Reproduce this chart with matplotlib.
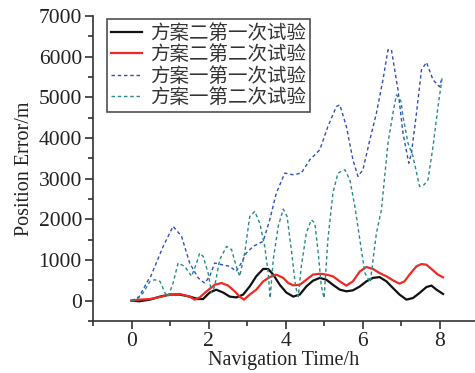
import matplotlib
matplotlib.use("Agg")
import matplotlib.pyplot as plt
from matplotlib.ticker import MultipleLocator

plt.rcParams['font.family'] = ['Liberation Serif', 'Noto Sans CJK SC']

labels = ['方案二第一次试验', '方案二第二次试验', '方案一第一次试验', '方案一第二次试验']

# 方案二第一次试验 (black)
t_b2_1 = [0, 0.2, 0.48, 0.74, 1.0, 1.25, 1.51, 1.73, 1.86, 2.03, 2.2, 2.38, 2.55, 2.72, 2.9,
          3.07, 3.24, 3.42, 3.55, 3.68, 3.85, 4.02, 4.2, 4.37, 4.54, 4.71, 4.89, 5.06, 5.23,
          5.41, 5.58, 5.75, 5.93, 6.1, 6.27, 6.44, 6.62, 6.79, 6.96, 7.14, 7.31, 7.48, 7.66,
          7.79, 7.92, 8.09]
v_b2_1 = [0, -15, 25, 100, 150, 150, 100, 40, 40, 200, 270, 200, 100, 80, 150,
          350, 600, 780, 780, 640, 390, 200, 100, 150, 350, 490, 560, 515, 390,
          270, 230, 254, 350, 475, 560, 580, 475, 310, 150, 25, 65, 190, 336,
          370, 270, 165]

# 方案二第二次试验 (red)
t_b2_2 = [0, 0.2, 0.48, 0.74, 1.0, 1.25, 1.51, 1.64, 1.77, 1.95, 2.16, 2.34, 2.51, 2.68, 2.81,
          2.92, 3.07, 3.24, 3.42, 3.59, 3.76, 3.94, 4.07, 4.2, 4.37, 4.54, 4.71, 4.89, 5.06,
          5.23, 5.41, 5.58, 5.75, 5.93, 6.1, 6.27, 6.44, 6.62, 6.79, 6.96, 7.09, 7.22, 7.4,
          7.53, 7.66, 7.83, 7.96, 8.09]
v_b2_2 = [0, 25, 40, 90, 155, 165, 100, 25, 80, 230, 390, 434, 370, 230, 100,
          25, 150, 270, 475, 580, 640, 560, 434, 377, 390, 515, 640, 663, 640,
          600, 475, 370, 475, 720, 827, 780, 680, 600, 500, 418, 475, 640, 845,
          900, 884, 745, 640, 575]

# 方案一第一次试验 (blue dashed)
t_b1_1 = [0, 0.2, 0.43, 0.5, 0.82, 1.08, 1.3, 1.51, 1.73, 1.9, 2.03, 2.16, 2.34, 2.55, 2.72,
          2.85, 2.98, 3.16, 3.42, 3.59, 3.76, 3.98, 4.2, 4.41, 4.63, 4.89, 5.1, 5.32, 5.41,
          5.58, 5.75, 5.88, 6.01, 6.19, 6.36, 6.53, 6.66, 6.75, 6.92, 7.05, 7.2, 7.27, 7.4,
          7.53, 7.66, 7.83, 8.0, 8.05]
v_b1_1 = [0, 100, 500, 600, 1330, 1830, 1580, 925, 560, 430, 600, 925, 885, 845, 720,
          925, 1170, 1335, 1460, 1990, 2645, 3137, 3095, 3137, 3464, 3710, 4283, 4775, 4815,
          4283, 3464, 3055, 3219, 3956, 4611, 5430, 6167, 6167, 5184, 4119, 3380, 3628, 4611,
          5676, 5860, 5430, 5260, 5430]

# 方案一第二次试验 (teal dashed)
t_b1_2 = [0, 0.13, 0.3, 0.48, 0.6, 0.74, 0.87, 0.95, 1.08, 1.21, 1.38, 1.56, 1.69, 1.77, 1.86,
          1.99, 2.08, 2.16, 2.29, 2.47, 2.6, 2.72, 2.81, 2.94, 3.07, 3.2, 3.33, 3.46, 3.55,
          3.6, 3.68, 3.81, 3.94, 4.04, 4.15, 4.26, 4.33, 4.41, 4.54, 4.67, 4.76, 4.84, 4.93,
          5.0, 5.1, 5.23, 5.36, 5.54, 5.67, 5.8, 5.93, 6.06, 6.2, 6.36, 6.49, 6.66, 6.79,
          6.88, 7.0, 7.05, 7.18, 7.31, 7.48, 7.6, 7.7, 7.83, 7.96, 8.07]
v_b1_2 = [0, 25, 190, 475, 515, 475, 190, 100, 435, 925, 845, 600, 925, 1170, 1090,
          680, 190, 350, 1007, 1335, 1253, 845, 600, 1170, 2072, 2195, 1908, 1335, 680,
          65, 1007, 1826, 2252, 2072, 1253, 350, 100, 845, 1663, 1990, 1908, 1253, 350,
          65, 1500, 2645, 3137, 3219, 2973, 2318, 1500, 680, 450, 1663, 2236, 3874, 4611,
          5061, 4900, 4529, 3874, 3546, 2809, 2850, 2973, 3792, 4775, 5512]

xticks = [0, 2, 4, 6, 8]
yticks = [0, 1000, 2000, 3000, 4000, 5000, 6000, 7000]

fig = plt.figure(figsize=(4.75, 3.73), dpi=100)
ax = fig.add_axes([93 / 475, 52 / 373, 1 - 93 / 475, (321 - 16) / 373])

ax.plot(t_b2_1, v_b2_1, color='#111111', lw=1.6, label=labels[0])
ax.plot(t_b2_2, v_b2_2, color='#ee2a24', lw=1.6, label=labels[1])
ax.plot(t_b1_1, v_b1_1, color='#2f4fbf', lw=1.0, ls=(0, (2.5, 2)), label=labels[2])
ax.plot(t_b1_2, v_b1_2, color='#2a8a86', lw=1.0, ls=(0, (2.5, 2)), label=labels[3])

ax.set_xlim(-1, 8.92)
ax.set_ylim(-500, 7000)
ax.set_xticks(xticks)
ax.set_yticks(yticks)
ax.xaxis.set_minor_locator(MultipleLocator(1))
ax.yaxis.set_minor_locator(MultipleLocator(500))
for s in ['top', 'right']:
    ax.spines[s].set_visible(False)
for s in ['left', 'bottom']:
    ax.spines[s].set_color('#333333')
    ax.spines[s].set_linewidth(1.2)
ax.tick_params(which='major', direction='out', length=6, width=1.2, color='#333333',
               labelsize=15.5, labelcolor='#222222', pad=2)
ax.tick_params(which='minor', direction='out', length=3.5, width=1.2, color='#333333')

ax.set_xlabel('Navigation Time/h', fontsize=14.5, color='#222222', labelpad=0)
ax.set_ylabel('Position Error/m', fontsize=14.5, color='#222222', labelpad=3)

leg = ax.legend(loc='upper left', bbox_to_anchor=(107 / 475, 1 - 19 / 373),
                bbox_transform=fig.transFigure,
                prop={'family': ['Noto Sans CJK SC'], 'size': 14},
                frameon=True, fancybox=False, edgecolor='#222222',
                handlelength=1.6, handletextpad=0.4, labelspacing=0.02,
                borderpad=0.2, borderaxespad=0)
leg.get_frame().set_linewidth(1.2)
for txt in leg.get_texts():
    txt.set_color('#333333')

fig.savefig('out.png', dpi=100)
